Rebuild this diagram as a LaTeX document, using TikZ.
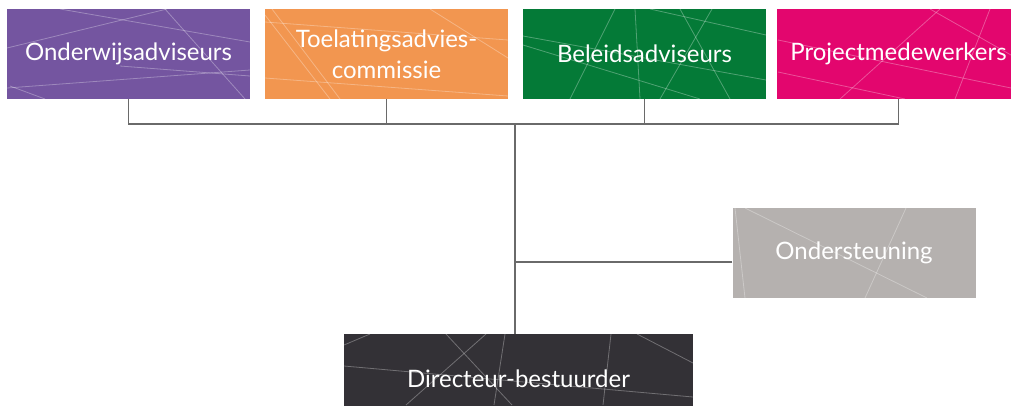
\documentclass[tikz,border=0pt]{standalone}
\usepackage{fontspec}
\setmainfont{Lato}
\definecolor{paars}{HTML}{7455A0}
\definecolor{oranje}{HTML}{F29650}
\definecolor{groen}{HTML}{047A37}
\definecolor{roze}{HTML}{E3066E}
\definecolor{grijs}{HTML}{B5B1AF}
\definecolor{donker}{HTML}{333136}
\definecolor{lijn}{HTML}{6A6A6A}
\tikzset{
  afdeling/.style={rectangle,minimum width=243pt,minimum height=90pt,
    inner sep=0pt,text=white,align=center,font=\fontsize{24}{31}\selectfont},
  streep/.style={white,opacity=.3,line width=.8pt},
  verbinding/.style={lijn,line width=1.6pt}
}
\begin{document}
\begin{tikzpicture}[x=1pt,y=-1pt]
\useasboundingbox (0,0) rectangle (1011,405);

% afdelingen
\node (onderwijs)[afdeling,fill=paars] at (128.5,54) {Onderwijsadviseurs};
\node (toelating)[afdeling,fill=oranje] at (386.5,54) {Toelatingsadvies-\\commissie};
\node (beleid)[afdeling,fill=groen] at (644.5,54) {Beleidsadviseurs};
\node (project)[afdeling,fill=roze] at (898.5,54) {Projectmedewerkers};
\node (ondersteuning)[afdeling,fill=grijs] at (854,253) {Ondersteuning};
\node (directeur)[afdeling,fill=donker,minimum width=349pt] at (518.5,379) {Directeur-bestuurder};

% strepen
\begin{scope}
  \clip (onderwijs.north west) rectangle (onderwijs.south east);
  \draw[streep] (60,9) -- (250,42);
  \draw[streep] (7,48) -- (167,9);
  \draw[streep] (165,9) -- (245,99);
  \draw[streep] (7,88) -- (250,70);
  \draw[streep] (10,86) -- (45,99);
  \draw[streep] (120,66) -- (250,76);
\end{scope}
\begin{scope}
  \clip (toelating.north west) rectangle (toelating.south east);
  \draw[streep] (265,22) -- (508,40);
  \draw[streep] (272,9) -- (340,99);
  \draw[streep] (265,78) -- (508,96);
  \draw[streep] (430,9) -- (508,58);
  \draw[streep] (265,15) -- (330,99);
\end{scope}
\begin{scope}
  \clip (beleid.north west) rectangle (beleid.south east);
  \draw[streep] (615,9) -- (570,99);
  \draw[streep] (635,9) -- (640,99);
  \draw[streep] (712,9) -- (660,99);
  \draw[streep] (523,36) -- (766,80);
  \draw[streep] (523,45) -- (700,99);
  \draw[streep] (650,9) -- (766,35);
  \draw[streep] (680,9) -- (730,99);
\end{scope}
\begin{scope}
  \clip (project.north west) rectangle (project.south east);
  \draw[streep] (778,40) -- (1011,88);
  \draw[streep] (840,99) -- (940,9);
  \draw[streep] (955,99) -- (990,9);
  \draw[streep] (930,9) -- (1011,55);
  \draw[streep] (778,72) -- (905,99);
\end{scope}
\begin{scope}
  \clip (ondersteuning.north west) rectangle (ondersteuning.south east);
  \draw[streep] (745,208) -- (927,298);
  \draw[streep] (735,208) -- (745,298);
  \draw[streep] (906,208) -- (865,298);
\end{scope}
\begin{scope}
  \clip (directeur.north west) rectangle (directeur.south east);
  \draw[streep] (446,334) -- (512,405);
  \draw[streep] (505,334) -- (494,405);
  \draw[streep] (611,334) -- (603,405);
  \draw[streep] (637,334) -- (693,363);
  \draw[streep] (344,366) -- (693,397);
  \draw[streep] (406,405) -- (486,334);
  \draw[streep] (344,345) -- (370,334);
\end{scope}

% verbindingen
\coordinate (knoop) at (515,124);
\coordinate (aftak) at ([yshift=-9pt]ondersteuning.west);
\draw[verbinding] (onderwijs.south) |- (knoop);
\draw[verbinding] (project.south) |- (knoop);
\foreach \van in {toelating,beleid}
  \draw[verbinding] (\van.south) -- (\van.south |- knoop);
\draw[verbinding] (knoop) -- (knoop |- directeur.north);
\draw[verbinding] (aftak) -- (aftak -| knoop);
\end{tikzpicture}
\end{document}
